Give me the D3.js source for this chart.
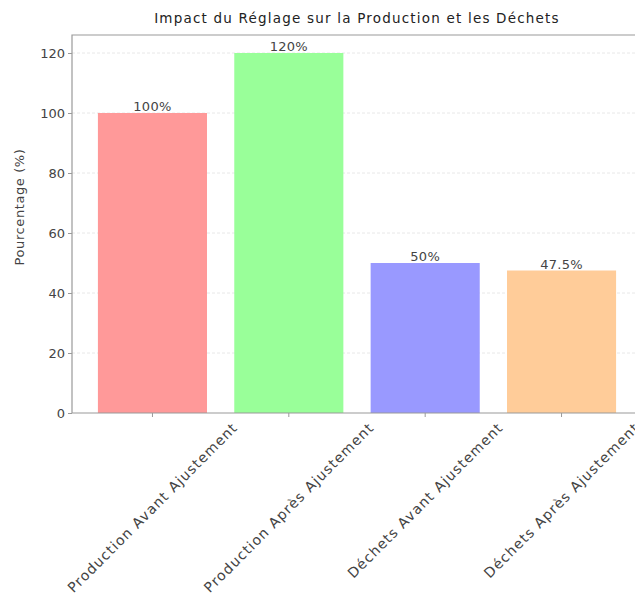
<!DOCTYPE html>
<html><head><meta charset="utf-8">
<script src="https://cdn.jsdelivr.net/npm/d3@7/dist/d3.min.js"></script>
<style>body{margin:0;background:#fff;overflow:hidden}text{font-family:"DejaVu Sans",sans-serif}</style>
</head><body><svg id="c" width="635" height="601"></svg>
<script>
const categories = ["Production Avant Ajustement","Production Après Ajustement","Déchets Avant Ajustement","Déchets Après Ajustement"];
const values = [100, 120, 50, 47.5];
const valueLabels = ["100%","120%","50%","47.5%"];
const colors = ["#ff9999","#99ff99","#9999ff","#ffcc99"];
const yTicks = [0,20,40,60,80,100,120];
const title = "Impact du Réglage sur la Production et les Déchets";
const yLabel = "Pourcentage (%)";

const svg = d3.select("#c");
const L = 72, R = 642, T = 35, B = 413;
const x = d3.scaleLinear().domain([-0.59, 3.59]).range([L, R]);
const y = d3.scaleLinear().domain([0, 126]).range([B, T]);
const bw = x(0.4) - x(0);
const FF = "'DejaVu Sans',sans-serif";

// grid
svg.append("g").selectAll("line").data(yTicks.filter(d=>d>0)).join("line")
  .attr("x1", L).attr("x2", R).attr("y1", d=>y(d)).attr("y2", d=>y(d))
  .attr("stroke", "#e2e2e2").attr("stroke-width", 0.8).attr("stroke-dasharray", "3,2");

// bars
svg.append("g").selectAll("rect").data(values).join("rect")
  .attr("x", (d,i)=>x(i)-bw).attr("width", bw*2)
  .attr("y", d=>y(d)).attr("height", d=>B-y(d))
  .attr("fill", (d,i)=>colors[i]);

// value labels
svg.append("g").selectAll("text").data(values).join("text")
  .attr("x", (d,i)=>x(i)).attr("y", d=>y(d)-2)
  .attr("text-anchor","middle").attr("font-size", 13).attr("letter-spacing", 0.3).attr("fill","#444")
  .text((d,i)=>valueLabels[i]);

// frame
svg.append("path").attr("d", `M${R},${T}H${L}V${B}H${R}`).attr("fill","none").attr("stroke","#9a9a9a").attr("stroke-width",1.2);

// y axis
const ya = svg.append("g").attr("transform", `translate(${L},0)`)
  .call(d3.axisLeft(y).tickValues(yTicks).tickSize(4).tickPadding(3));
ya.select(".domain").remove();
ya.selectAll("line").attr("stroke","#9a9a9a");
ya.selectAll("text").attr("font-size",13).attr("fill","#444").attr("font-family",FF);

// x ticks
svg.append("g").selectAll("line").data(categories).join("line")
  .attr("x1",(d,i)=>x(i)).attr("x2",(d,i)=>x(i)).attr("y1",B).attr("y2",B+4).attr("stroke","#9a9a9a");

// x labels rotated 45, centered on tick
const fs = 14;
svg.append("g").selectAll("text").data(categories).join("text")
  .attr("font-size", fs).attr("letter-spacing", 1.1).attr("fill","#444").attr("text-anchor","middle").attr("dominant-baseline","central")
  .text(d=>d)
  .each(function(d,i){
    const len = this.getComputedTextLength();
    const H = (len + fs) * Math.SQRT1_2;
    const cx = x(i), cy = B + 7 + H/2;
    d3.select(this).attr("x", cx).attr("y", cy).attr("transform", `rotate(-45,${cx},${cy})`);
  });

// title
svg.append("text").attr("x",(L+R)/2).attr("y",23).attr("text-anchor","middle")
  .attr("font-size",13.5).attr("letter-spacing", 1.2).attr("fill","#222").text(title);

// y label
svg.append("text").attr("transform",`translate(24,207) rotate(-90)`).attr("text-anchor","middle")
  .attr("font-size",13).attr("letter-spacing", 0.6).attr("fill","#444").text(yLabel);
</script></body></html>
